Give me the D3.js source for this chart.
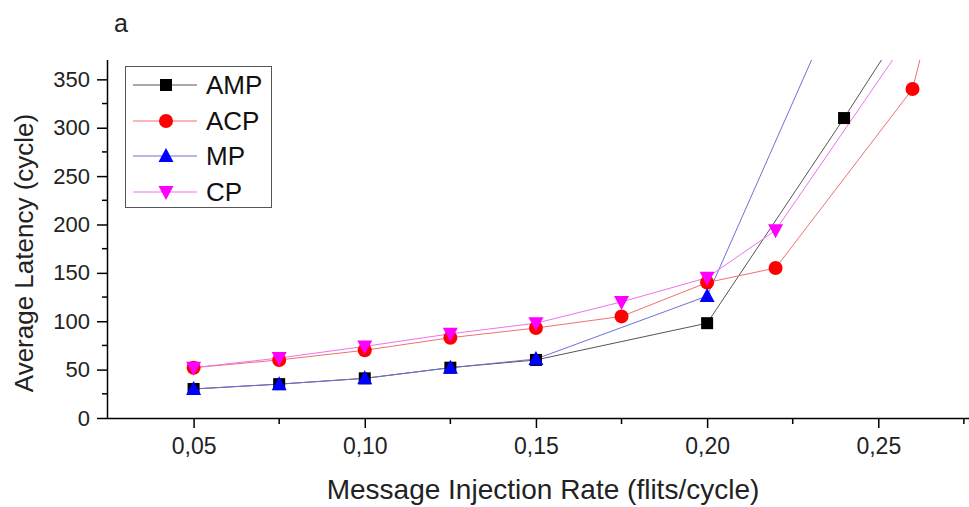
<!DOCTYPE html>
<html><head><meta charset="utf-8">
<script src="https://cdn.jsdelivr.net/npm/d3@7"></script>
<style>body{margin:0;background:#fff}svg{display:block}text{font-family:"Liberation Sans",Arial,sans-serif}</style>
</head><body><svg id="c" width="969" height="507"></svg>
<script>
const xAMP=[0.05,0.075,0.10,0.125,0.15,0.20,0.24,0.26];
const yAMP=[30,35,41,52,60,98,310,420];
const xACP=[0.05,0.075,0.10,0.125,0.15,0.175,0.20,0.22,0.26,0.27];
const yACP=[52,60,70,83,93,105,140,155,340,480];
const xMP=[0.05,0.075,0.10,0.125,0.15,0.20,0.24];
const yMP=[30,35,41,52,61,126,446];
const xCP=[0.05,0.075,0.10,0.125,0.15,0.175,0.20,0.22,0.26];
const yCP=[52,62,74,87,98,120,145,194,400];
const xTicks=[0.05,0.10,0.15,0.20,0.25];
const xTickLabels=["0,05","0,10","0,15","0,20","0,25"];
const yTicks=[0,50,100,150,200,250,300,350];
const seriesNames=["AMP","ACP","MP","CP"];

const svg=d3.select("#c");
const L=108,R=981,T=60,B=418;
const x=d3.scaleLinear().domain([0.025,0.28]).range([L,R]);
const y=d3.scaleLinear().domain([0,370]).range([B,T]);

const series=[
 {name:"AMP",xs:xAMP,ys:yAMP,line:"#555",fill:"#000",shape:"square"},
 {name:"ACP",xs:xACP,ys:yACP,line:"#f07070",fill:"#ff0000",shape:"circle"},
 {name:"MP",xs:xMP,ys:yMP,line:"#6f6fd8",fill:"#0000ff",shape:"up"},
 {name:"CP",xs:xCP,ys:yCP,line:"#f070f0",fill:"#ff00ff",shape:"down"}
];

svg.append("defs").append("clipPath").attr("id","clip").append("rect")
 .attr("x",L).attr("y",T).attr("width",R-L).attr("height",B-T);

function marker(g,shape,cx,cy,fill){
  if(shape==="square") g.append("rect").attr("x",cx-6).attr("y",cy-6).attr("width",12).attr("height",12).attr("fill",fill);
  else if(shape==="circle") g.append("circle").attr("cx",cx).attr("cy",cy).attr("r",7).attr("fill",fill);
  else if(shape==="up") g.append("path").attr("d",`M${cx},${cy-8}L${cx+7.5},${cy+6}L${cx-7.5},${cy+6}Z`).attr("fill",fill);
  else g.append("path").attr("d",`M${cx},${cy+8}L${cx+7.5},${cy-6}L${cx-7.5},${cy-6}Z`).attr("fill",fill);
}

const plot=svg.append("g").attr("clip-path","url(#clip)");
const lineGen=d3.line().x(d=>x(d[0])).y(d=>y(d[1]));
series.forEach(s=>{
  const pts=s.xs.map((v,i)=>[v,s.ys[i]]);
  plot.append("path").attr("d",lineGen(pts)).attr("fill","none").attr("stroke",s.line).attr("stroke-width",1);
});
series.forEach(s=>{
  const g=plot.append("g");
  s.xs.forEach((v,i)=>marker(g,s.shape,x(v),y(s.ys[i]),s.fill));
});

// axes
const xAxis=d3.axisBottom(x).tickValues(xTicks).tickFormat((d,i)=>xTickLabels[i]).tickSize(10).tickPadding(10);
const gx=svg.append("g").attr("transform",`translate(0,${B})`).call(xAxis);
gx.select(".domain").attr("stroke","#000").attr("stroke-width",1.5).attr("d",`M${L},0.5H${R}`);
gx.selectAll(".tick line").attr("stroke-width",1.5);
gx.selectAll("text").attr("font-size",23).attr("fill","#222");
const xMinor=[0.075,0.125,0.175,0.225,0.275];
svg.append("g").selectAll("line").data(xMinor).join("line")
 .attr("x1",d=>x(d)).attr("x2",d=>x(d)).attr("y1",B).attr("y2",B+6).attr("stroke","#000").attr("stroke-width",1.5);

const yAxis=d3.axisLeft(y).tickValues(yTicks).tickSize(11).tickPadding(7);
const gy=svg.append("g").attr("transform",`translate(${L},0)`).call(yAxis);
gy.select(".domain").attr("stroke","#000").attr("stroke-width",1.5).attr("d",`M-0.5,${T}V${B}`);
gy.selectAll(".tick line").attr("stroke-width",1.5);
gy.selectAll("text").attr("font-size",22).attr("fill","#222");
const yMinor=[25,75,125,175,225,275,325];
svg.append("g").selectAll("line").data(yMinor).join("line")
 .attr("x1",L).attr("x2",L-6).attr("y1",d=>y(d)).attr("y2",d=>y(d)).attr("stroke","#000").attr("stroke-width",1.5);

// titles
svg.append("text").attr("x",543).attr("y",499).attr("text-anchor","middle").attr("font-size",28).attr("fill","#222")
 .text("Message Injection Rate (flits/cycle)");
svg.append("text").attr("transform","translate(33,253) rotate(-90)").attr("text-anchor","middle").attr("font-size",26).attr("fill","#222")
 .text("Average Latency (cycle)");
svg.append("text").attr("x",114).attr("y",32).attr("font-size",25).attr("fill","#222").text("a");

// legend
const lg=svg.append("g");
lg.append("rect").attr("x",125.5).attr("y",66.5).attr("width",146).attr("height",141).attr("fill","#fff").attr("stroke","#555").attr("stroke-width",1);
const ly=[85,121,156,192];
series.forEach((s,i)=>{
  lg.append("line").attr("x1",133).attr("x2",197).attr("y1",ly[i]).attr("y2",ly[i]).attr("stroke",s.line).attr("stroke-width",1);
  marker(lg,s.shape,166,ly[i],s.fill);
  lg.append("text").attr("x",206).attr("y",ly[i]+9).attr("font-size",26).attr("fill","#111").text(seriesNames[i]);
});
</script></body></html>
